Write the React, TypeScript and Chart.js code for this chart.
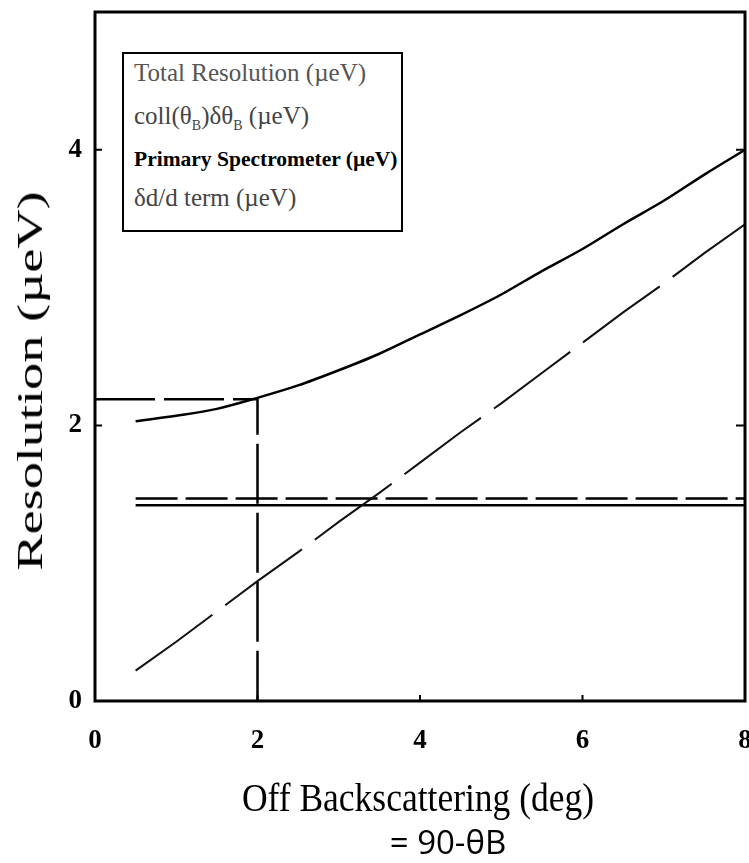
import React, { useEffect, useRef } from "react";
import { Chart, registerables } from "chart.js";

Chart.register(...registerables);

// Off backscattering angle (deg)
const xValues = [0.5, 1, 1.5, 2, 2.5, 3, 3.5, 4, 4.5, 5, 5.5, 6, 6.5, 7, 7.5, 8];
// Total Resolution (µeV)
const totalResolution = [2.03, 2.07, 2.12, 2.2, 2.29, 2.4, 2.52, 2.66, 2.8, 2.95, 3.12, 3.28, 3.46, 3.63, 3.82, 4.0];
// coll(θB)δθB (µeV)
const collTerm = [0.22, 0.43, 0.65, 0.87, 1.08, 1.3, 1.51, 1.73, 1.95, 2.16, 2.38, 2.6, 2.82, 3.03, 3.25, 3.46];
// constant terms
const flatX = [0.5, 8];
const primarySpectrometer = [1.42, 1.42];
const ddTerm = [1.47, 1.47];
// marker at 2 deg
const markerX = [0, 2, 2];
const markerY = [2.19, 2.19, 0];

const xTicks = [0, 2, 4, 6, 8];
const yTicks = [0, 2, 4];

const pts = (xs: number[], ys: number[]) => xs.map((x, i) => ({ x, y: ys[i] }));

const framePlugin = {
  id: "frame",
  afterDatasetsDraw(chart: any) {
    const { ctx, chartArea, scales } = chart;
    ctx.save();
    ctx.strokeStyle = "#000";
    ctx.lineWidth = 3;
    ctx.strokeRect(chartArea.left, chartArea.top, chartArea.right - chartArea.left, chartArea.bottom - chartArea.top);
    ctx.lineWidth = 2;
    ctx.beginPath();
    [2, 4, 6].forEach((v) => {
      const px = scales.x.getPixelForValue(v);
      ctx.moveTo(px, chartArea.bottom);
      ctx.lineTo(px, chartArea.bottom - 6);
    });
    [2, 4].forEach((v) => {
      const py = scales.y.getPixelForValue(v);
      ctx.moveTo(chartArea.left, py);
      ctx.lineTo(chartArea.left + 7, py);
      ctx.moveTo(chartArea.right, py);
      ctx.lineTo(chartArea.right - 9, py);
    });
    ctx.stroke();
    ctx.restore();
  },
};

const tickFont = { family: "'Liberation Serif', 'Times New Roman', serif", size: 27, weight: "bold" as const };

export default function App() {
  const ref = useRef<HTMLCanvasElement | null>(null);

  useEffect(() => {
    if (!ref.current) return;
    const chart = new Chart(ref.current, {
      type: "line",
      data: {
        datasets: [
          {
            label: "Total Resolution (µeV)",
            data: pts(xValues, totalResolution),
            borderColor: "#000",
            borderWidth: 2.5,
            pointRadius: 0,
            cubicInterpolationMode: "monotone",
          },
          {
            label: "coll(θB)δθB (µeV)",
            data: pts(xValues, collTerm),
            borderColor: "#111",
            borderWidth: 2,
            borderDash: [95, 16],
            pointRadius: 0,
          },
          {
            label: "Primary Spectrometer (µeV)",
            data: pts(flatX, primarySpectrometer),
            borderColor: "#000",
            borderWidth: 2.5,
            pointRadius: 0,
          },
          {
            label: "δd/d term (µeV)",
            data: pts(flatX, ddTerm),
            borderColor: "#000",
            borderWidth: 2.5,
            borderDash: [42, 8],
            pointRadius: 0,
          },
          {
            label: "2 deg marker",
            data: pts(markerX, markerY),
            borderColor: "#000",
            borderWidth: 2.5,
            borderDash: [60, 9],
            pointRadius: 0,
          },
        ],
      },
      options: {
        animation: false,
        responsive: false,
        maintainAspectRatio: false,
        layout: { padding: { left: 0, right: 4, top: 12, bottom: 0 } },
        plugins: { legend: { display: false }, tooltip: { enabled: false } },
        scales: {
          x: {
            type: "linear",
            min: 0,
            max: 8,
            afterBuildTicks: (s: any) => {
              s.ticks = xTicks.map((v) => ({ value: v }));
            },
            ticks: { font: tickFont, color: "#000", padding: 24, maxRotation: 0 },
            grid: { display: false, drawTicks: false },
            border: { display: false },
            afterFit: (s: any) => {
              s.height = 162;
              s.paddingLeft = 0;
              s.paddingRight = 0;
            },
          },
          y: {
            type: "linear",
            min: 0,
            max: 5,
            afterBuildTicks: (s: any) => {
              s.ticks = yTicks.map((v) => ({ value: v }));
            },
            ticks: { font: tickFont, color: "#000", padding: 13 },
            grid: { display: false, drawTicks: false },
            border: { display: false },
            afterFit: (s: any) => {
              s.width = 95;
              s.paddingTop = 0;
              s.paddingBottom = 0;
            },
          },
        },
      },
      plugins: [framePlugin],
    } as any);
    return () => chart.destroy();
  }, []);

  const serif = "'Liberation Serif', 'Times New Roman', serif";
  const legendLine = (top: number, content: React.ReactNode, color: string, bold = false) => (
    <div
      style={{
        position: "absolute",
        left: 10,
        top,
        fontFamily: serif,
        fontSize: bold ? 21.5 : 25,
        lineHeight: "26px",
        color,
        fontWeight: bold ? "bold" : "normal",
        whiteSpace: "nowrap",
      }}
    >
      {content}
    </div>
  );

  return (
    <div style={{ position: "absolute", left: 0, top: 0, width: 749, height: 863, background: "#fff" }}>
      <canvas ref={ref} width={749} height={863} style={{ position: "absolute", left: 0, top: 0 }} />
      <div
        style={{
          position: "absolute",
          left: 122,
          top: 52,
          width: 277,
          height: 176,
          border: "2px solid #000",
          background: "#fff",
        }}
      >
        {legendLine(6, "Total Resolution (µeV)", "#555")}
        {legendLine(49, <span>coll(θ<sub style={{ fontSize: 14 }}>B</sub>)δθ<sub style={{ fontSize: 14 }}>B</sub> (µeV)</span>, "#444")}
        {legendLine(92, "Primary Spectrometer (µeV)", "#000", true)}
        {legendLine(131, "δd/d  term (µeV)", "#444")}
      </div>
      <div
        style={{
          position: "absolute",
          left: 31,
          top: 381,
          transform: "translate(-50%, -50%) rotate(-90deg) scaleX(1.55)",
          fontFamily: serif,
          fontSize: 35,
          color: "#000",
          whiteSpace: "nowrap",
        }}
      >
        Resolution (µeV)
      </div>
      <div
        style={{
          position: "absolute",
          left: 418,
          top: 797,
          transform: "translate(-50%, -50%) scaleY(1.15)",
          fontFamily: serif,
          fontSize: 35.5,
          color: "#000",
          whiteSpace: "nowrap",
        }}
      >
        Off Backscattering (deg)
      </div>
      <div
        style={{
          position: "absolute",
          left: 448,
          top: 841,
          transform: "translate(-50%, -50%)",
          fontFamily: "'Open Sans', 'Noto Sans', sans-serif",
          fontSize: 33,
          color: "#000",
          whiteSpace: "nowrap",
        }}
      >
        = 90-θB
      </div>
    </div>
  );
}
